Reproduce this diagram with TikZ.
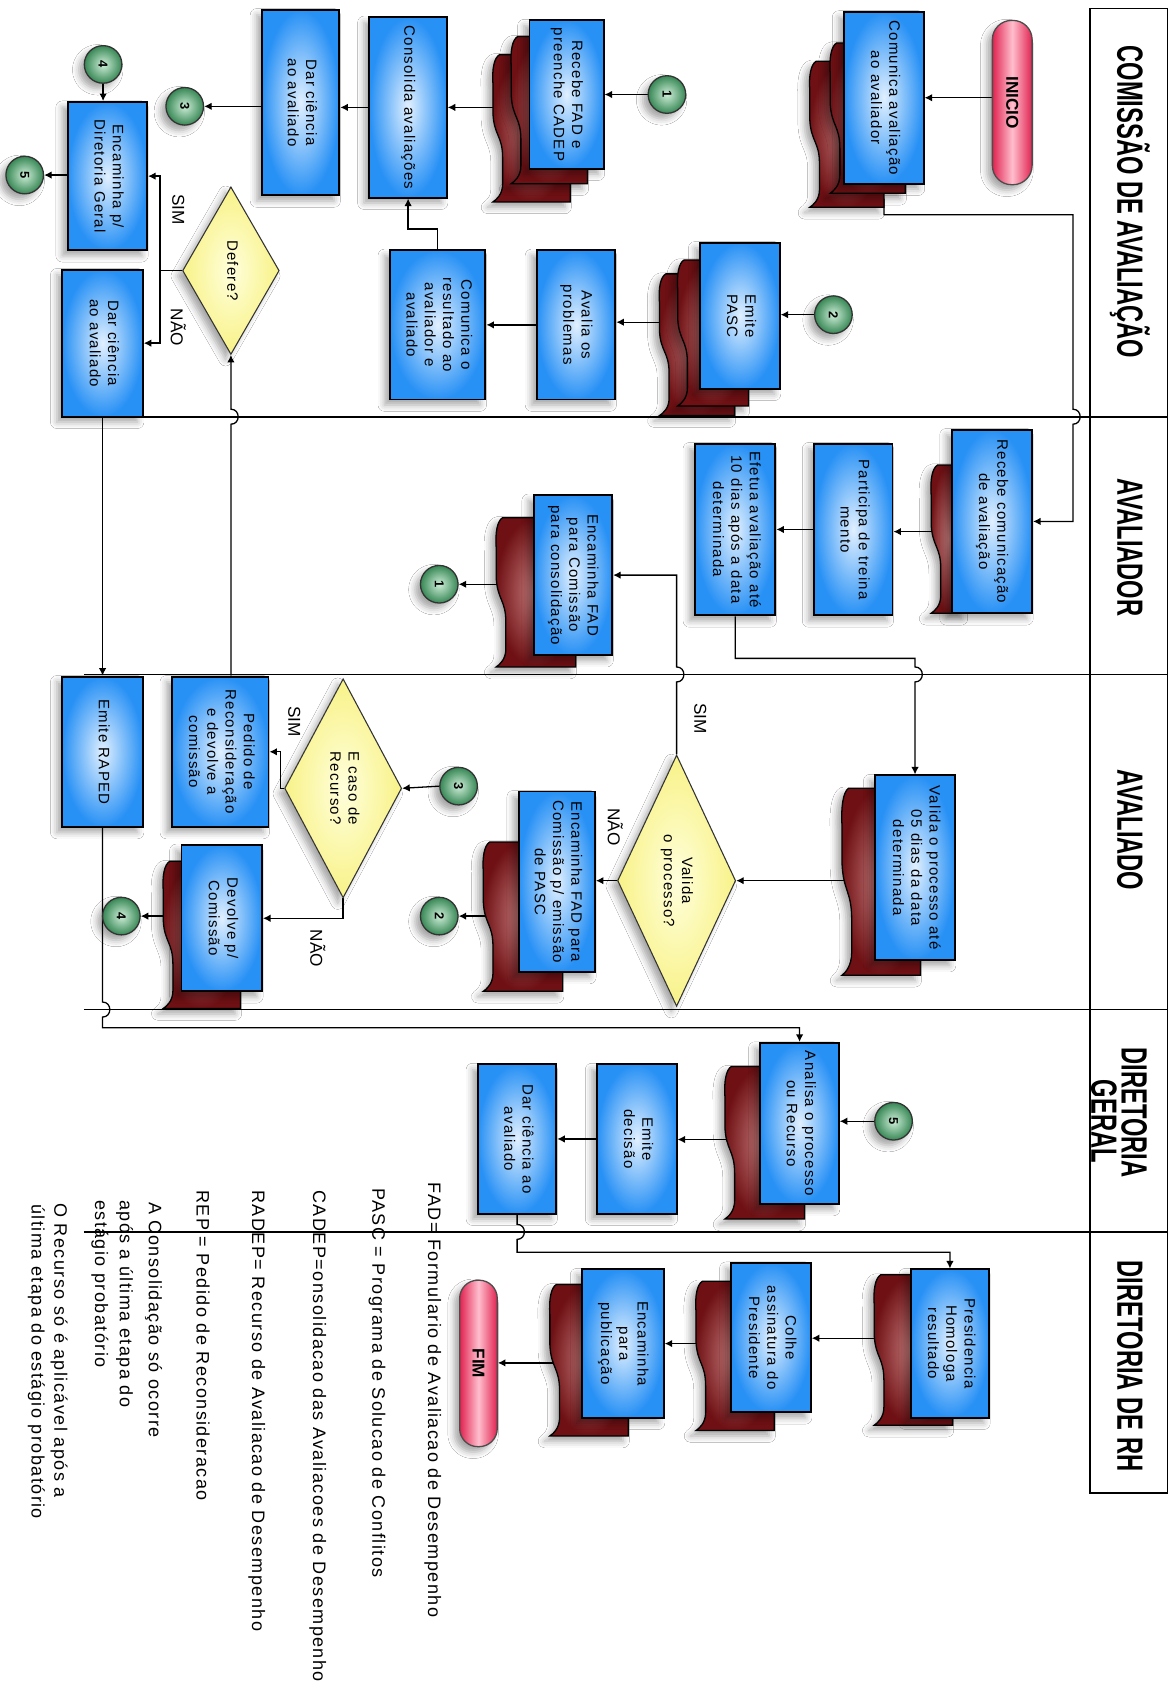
\documentclass[tikz,border=0pt]{standalone}
\usepackage{fontspec}
\usepackage{graphicx}
\setmainfont{Liberation Sans}
\newfontfamily\boxfont[LetterSpace=8]{Liberation Sans}
\newfontfamily\legfont[LetterSpace=8]{Liberation Sans}
\usetikzlibrary{shapes.geometric,shadows.blur,arrows.meta,backgrounds}
\definecolor{boxblue}{RGB}{40,145,245}
\definecolor{boxlight}{RGB}{225,240,255}
\definecolor{docdark}{RGB}{110,16,20}
\definecolor{doclight}{RGB}{200,125,125}
\definecolor{termred}{RGB}{225,35,80}
\definecolor{termlight}{RGB}{255,190,205}
\definecolor{dmdyel}{RGB}{248,242,135}
\definecolor{dmdlight}{RGB}{255,255,220}
\definecolor{cgreen}{RGB}{55,135,85}
\definecolor{clight}{RGB}{205,238,215}
\tikzset{
 shad/.style={blur shadow={shadow xshift=-2.5pt,shadow yshift=-2.5pt,shadow blur radius=3pt,shadow opacity=35}},
 bluebox/.style={rectangle,draw=black,line width=0.9pt,inner color=boxlight,outer color=boxblue,inner sep=0pt,font=\boxfont\fontsize{7}{8.5}\selectfont,shad},
 docshape/.style={draw=black,line width=0.6pt,inner color=doclight,outer color=docdark,shad},
 term/.style={rectangle,draw=black!70,line width=0.6pt,left color=termred,right color=termred,middle color=termlight,inner sep=0pt,font=\fontsize{8}{9}\selectfont\bfseries,shad},
 dmd/.style={diamond,draw=black!80,line width=0.5pt,inner color=dmdlight,outer color=dmdyel,inner sep=0pt,font=\boxfont\fontsize{7}{8.5}\selectfont,shad},
 conncirc/.style={circle,draw=black!80,line width=0.6pt,inner color=clight,outer color=cgreen,minimum size=17.5pt,inner sep=0pt,font=\fontsize{6}{6}\selectfont\bfseries,shad},
 link/.style={line width=0.6pt,draw=black},
 arr/.style={link,-{Latex[length=3.5pt,width=3.5pt]}},
 sepline/.style={line width=0.8pt,draw=black},
 hdr/.style={font=\fontsize{17}{14}\selectfont\bfseries,inner sep=0pt},
 lbl/.style={font=\fontsize{8}{8}\selectfont,inner sep=0pt},
 leg/.style={font=\legfont\fontsize{8.4}{10}\selectfont,inner sep=0pt,rotate=-90,anchor=west},
}
\newcommand\mybox[6]{%
 \pgfmathsetmacro\bxcx{(#2+#4)/2}\pgfmathsetmacro\bxcy{(#3+#5)/2}%
 \pgfmathsetmacro\bxw{(#4-#2)/2}\pgfmathsetmacro\bxh{(#5-#3)/2}%
 \node[bluebox,minimum width=\bxw pt,minimum height=\bxh pt] (#1) at (\bxcx,\bxcy) {\rotatebox{-90}{\begin{tabular}{@{}c@{}}#6\end{tabular}}};}
\newcommand\myterm[6]{%
 \pgfmathsetmacro\bxcx{(#2+#4)/2}\pgfmathsetmacro\bxcy{(#3+#5)/2}%
 \pgfmathsetmacro\bxw{(#4-#2)/2}\pgfmathsetmacro\bxh{(#5-#3)/2}%
 \pgfmathsetmacro\bxr{(#4-#2)/4-0.3}%
 \node[term,minimum width=\bxw pt,minimum height=\bxh pt,rounded corners=\bxr pt] (#1) at (\bxcx,\bxcy) {\rotatebox{-90}{#6}};}
\newcommand\mydmd[6]{%
 \pgfmathsetmacro\bxcx{(#2+#4)/2}\pgfmathsetmacro\bxcy{(#3+#5)/2}%
 \pgfmathsetmacro\bxw{(#4-#2)/2}\pgfmathsetmacro\bxh{(#5-#3)/2}%
 \pgfmathsetmacro\bxa{\bxw/\bxh}%
 \node[dmd,minimum width=\bxw pt,minimum height=\bxh pt,shape aspect=\bxa] (#1) at (\bxcx,\bxcy) {\rotatebox{-90}{\begin{tabular}{@{}c@{}}#6\end{tabular}}};}
\newcommand\myred[4]{%
 \shadedraw[docshape] (#3,#2) -- ({#1+5},#2) .. controls ({#1},{#2+0.02*(#4-#2)}) and ({#1-2},{#2+0.1*(#4-#2)}) .. ({#1-1},{#2+0.2*(#4-#2)})
  -- ({#1-1},{#2+0.4*(#4-#2)}) .. controls ({#1},{#2+0.55*(#4-#2)}) and ({#1+8},{#2+0.55*(#4-#2)}) .. ({#1+8},{#2+0.7*(#4-#2)})
  -- ({#1+8},{#2+0.88*(#4-#2)}) .. controls ({#1+8},{#2+0.95*(#4-#2)}) and ({#1+2},{#4-2}) .. ({#1-1},#4) -- (#3,#4) -- cycle;}
\newcommand\mycirc[4]{\node[conncirc] (#1) at (#2,#3) {\rotatebox{-90}{#4}};}
\begin{document}
\begin{tikzpicture}[x=0.5pt,y=-0.5pt]
\useasboundingbox (0,0) rectangle (1092,1568);
% header column
\draw[sepline] (1015,8) rectangle (1087,1390);
\node[hdr] (hcom) at (1052,188) {\rotatebox{-90}{\scalebox{0.65}[1]{COMISSÃO DE AVALIAÇÃO}}};
\node[hdr] (havr) at (1052,510) {\rotatebox{-90}{\scalebox{0.65}[1]{AVALIADOR}}};
\node[hdr] (havd) at (1052,773) {\rotatebox{-90}{\scalebox{0.65}[1]{AVALIADO}}};
\node[hdr] (hdg1) at (1056,1036) {\rotatebox{-90}{\scalebox{0.65}[1]{DIRETORIA}}};
\node[hdr] (hdg2) at (1028,1044) {\rotatebox{-90}{\scalebox{0.65}[1]{GERAL}}};
\node[hdr] (hrh) at (1052,1272) {\rotatebox{-90}{\scalebox{0.65}[1]{DIRETORIA DE RH}}};

% ---- lane 1
\myterm{inicio}{924}{19}{961}{172}{INICIO}
\myred{755}{57}{823}{193}\myred{774}{40}{843}{180}
\mybox{comav}{786}{11}{860}{171}{Comunica avaliação\\ao avaliador}
\myred{460}{51}{531}{188}\myred{477}{34}{547}{171}
\mybox{recfad}{493}{19}{562}{157}{Recebe FAD e\\preenche CADEP}
\mybox{consol}{344}{16}{416}{184}{Consolida avaliações}
\mybox{darc1}{244}{9}{316}{182}{Dar ciência\\ao avaliado}
\mybox{encdg}{63}{95}{137}{233}{Encaminha p/\\Diretoria Geral}
\mybox{darc2}{58}{251}{133}{388}{Dar ciência\\ao avaliado}
\mydmd{defere}{170}{174}{260}{330}{Defere?}
\myred{615}{255}{684}{387}\myred{632}{242}{697}{378}
\mybox{pasc}{652}{226}{726}{362}{Emite\\PASC}
\mybox{avalia}{500}{233}{573}{372}{Avalia os\\problemas}
\mybox{comres}{363}{233}{452}{372}{Comunica o\\resultado ao\\avaliador e\\avaliado}
\mycirc{c1a}{621}{88}{1}
\mycirc{c2a}{776}{293}{2}
\mycirc{c3a}{172}{99}{3}
\mycirc{c4a}{96}{60}{4}
\mycirc{c5a}{23}{163}{5}
\node[lbl] (sim1) at (166,195) {\rotatebox{-90}{SIM}};
\node[lbl] (nao1) at (166,305) {\rotatebox{-90}{NÃO}};

% ---- lane 2
\myred{868}{433}{900}{571}
\mybox{recom}{886}{400}{961}{571}{Recebe comunicação\\de avaliação}
\mybox{particip}{758}{413}{831}{573}{Participa de treina\\mento}
\mybox{efetua}{647}{413}{722}{573}{Efetua avaliação até\\10 dias após a data\\determinada}
\myred{463}{482}{536}{621}
\mybox{encfad}{497}{461}{570}{610}{Encaminha FAD\\para Comissão\\para consolidação}
\mycirc{c1b}{409}{544}{1}

% ---- lane 3
\myred{785}{734}{857}{908}
\mybox{valproc}{815}{722}{889}{894}{Valida o processo até\\05 dias da data\\determinada}
\mydmd{valq}{575}{703}{685}{937}{Valida\\o processo?}
\myred{451}{784}{524}{923}
\mybox{encpasc}{483}{737}{554}{905}{Encaminha FAD para\\Comissão p/ emissão\\de PASC}
\mycirc{c2b}{409}{853}{2}
\mydmd{recurso}{265}{632}{374}{836}{E caso de\\Recurso?}
\mycirc{c3b}{427}{732}{3}
\mybox{pedido}{160}{630}{250}{770}{Pedido de\\Reconsideração\\e devolve a\\comissão}
\myred{153}{802}{224}{939}
\mybox{devolve}{169}{787}{244}{923}{Devolve p/\\Comissão}
\mycirc{c4b}{113}{853}{4}
\mybox{emraped}{58}{630}{133}{770}{Emite RAPED}
\node[lbl] (sim2) at (652,669) {\rotatebox{-90}{SIM}};
\node[lbl] (nao2) at (573,770) {\rotatebox{-90}{NÃO}};
\node[lbl] (sim3) at (274,672) {\rotatebox{-90}{SIM}};
\node[lbl] (nao3) at (296,883) {\rotatebox{-90}{NÃO}};

% ---- lane 4
\myred{676}{993}{749}{1135}
\mybox{analisa}{708}{971}{781}{1121}{Analisa o processo\\ou Recurso}
\mycirc{c5b}{832}{1044}{5}
\mybox{emdec}{556}{991}{630}{1130}{Emite\\decisão}
\mybox{darc3}{445}{991}{518}{1130}{Dar ciência ao\\avaliado}

% ---- lane 5
\myred{815}{1187}{887}{1327}
\mybox{presid}{848}{1182}{921}{1320}{Presidencia\\Homologa\\resultado}
\myred{649}{1193}{721}{1332}
\mybox{colhe}{681}{1176}{755}{1315}{Colhe\\assinatura do\\Presidente}
\myred{513}{1196}{585}{1337}
\mybox{encpub}{542}{1182}{618}{1320}{Encaminha\\para\\publicação}
\myterm{fim}{428}{1192}{463}{1347}{FIM}

% ---- legend
\node[leg] (l1) at (403,1101) {FAD= Formulario de Avaliacao de Desempenho};
\node[leg] (l2) at (351,1106) {PASC = Programa de Solucao de Conflitos};
\node[leg] (l3) at (296,1108) {CADEP=onsolidacao das Avaliacoes de Desempenho};
\node[leg] (l4) at (239,1108) {RADEP= Recurso de Avaliacao de Desempenho};
\node[leg] (l5) at (189,1108) {REP = Pedido de Reconsideracao};
\node[leg] (l6) at (143,1119) {A Consolidação só ocorre};
\node[leg] (l7) at (116,1117) {após a última etapa do};
\node[leg] (l8) at (93,1117) {estágio probatório};
\node[leg] (l9) at (55,1120) {O Recurso só é aplicável após a};
\node[leg] (l10) at (34,1121) {última etapa do estágio probatório};

% ---- connectors (behind)
\begin{pgfonlayer}{background}
\fill[white] (0,0) rectangle (1092,1568);
\draw[sepline] (58,388) -- (1087,388);
\draw[sepline] (78,628) -- (1087,628);
\draw[sepline] (78,940) -- (1087,940);
\draw[sepline] (78,1147) -- (1087,1147);
\coordinate (comavout) at (823,185);
\coordinate (recfadout) at (470,100);
\coordinate (pascout) at (630,300);
\coordinate (recomout) at (880,495);
\coordinate (encfadout) at (475,544);
\coordinate (valprocout) at (800,820);
\coordinate (encpascout) at (465,853);
\coordinate (devolveout) at (165,853);
\coordinate (analisaout) at (690,1061);
\coordinate (presidout) at (830,1246);
\coordinate (colheout) at (665,1251);
\coordinate (encpubout) at (528,1269);
\coordinate (dj) at (149,252);
\draw[arr] (inicio.west |- comav.east) -- (comav.east);
\draw[arr] (comavout) -- (823,200) -- (999,200) -- (999,381) .. controls (1008,381) and (1008,395) .. (999,395) |- (recom.east);
\draw[arr] (c1a.west) -- (c1a.west -| recfad.east);
\draw[arr] (recfadout) -- (recfadout -| consol.east);
\draw[arr] (consol.west) -- (consol.west -| darc1.east);
\draw[arr] (darc1.west |- c3a) -- (c3a.east);
\draw[arr] (c4a.south) -- (c4a.south |- encdg.north);
\draw[arr] (encdg.west |- c5a) -- (c5a.east);
\draw[link] (defere.west) -- (dj);
\draw[arr] (dj) |- (encdg.east);
\draw[arr] (dj) |- (darc2.east);
\draw[arr] (defere.south |- pedido.north) -- (215,395) .. controls (224,395) and (224,381) .. (215,381) -- (defere.south);
\draw[arr] (c2a.west) -- (c2a.west -| pasc.east);
\draw[arr] (pascout) -- (pascout -| avalia.east);
\draw[arr] (avalia.west) -- (avalia.west -| comres.east);
\draw[arr] (comres.north) -- ++(0,-19) -| (consol.south);
\draw[arr] (recomout) -- (recomout -| particip.east);
\draw[arr] (particip.west) -- (particip.west -| efetua.east);
\draw[arr] (efetua.south) |- (852,613) -- (852,621) .. controls (861,621) and (861,635) .. (852,635) -- (valproc.north);
\draw[arr] (encfadout) -- (c1b.east);
\draw[arr] (valq.north) -- (630,635) .. controls (639,635) and (639,621) .. (630,621) |- (encfad.east);
\draw[arr] (valprocout) -- (valq.east);
\draw[arr] (valq.west) -- (valq.west -| encpasc.east);
\draw[arr] (encpascout) -- (c2b.east);
\draw[arr] (c3b.west) -- (recurso.east);
\draw[arr] (recurso.west) -- ++(-3,0) |- (pedido.east);
\draw[arr] (recurso.south) |- (devolve.east);
\draw[arr] (devolveout) -- (c4b.east);
\draw[arr] (darc2.south) -- (emraped.north);
\draw[arr] (emraped.south) -- (95.5,933) .. controls (104.5,933) and (104.5,947) .. (95.5,947) |- (744.5,957) -- (analisa.north);
\draw[arr] (c5b.west) -- (c5b.west -| analisa.east);
\draw[arr] (analisaout) -- (analisaout -| emdec.east);
\draw[arr] (emdec.west) -- (emdec.west -| darc3.east);
\draw[arr] (darc3.south) -- (481.5,1140) .. controls (490.5,1140) and (490.5,1154) .. (481.5,1154) |- (884.5,1166) -- (presid.north);
\draw[arr] (presidout) -- (presidout -| colhe.east);
\draw[arr] (colheout) -- (colheout -| encpub.east);
\draw[arr] (encpubout) -- (encpubout -| fim.east);
\end{pgfonlayer}
\end{tikzpicture}
\end{document}
